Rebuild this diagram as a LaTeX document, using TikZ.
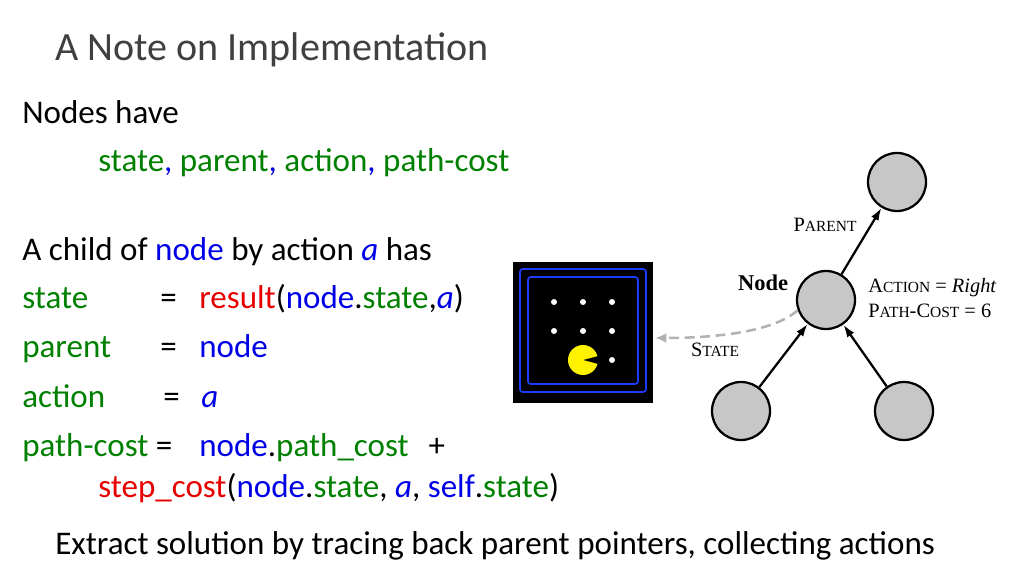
\documentclass[tikz,border=0pt]{standalone}
\usepackage{fontspec}
\setmainfont{Carlito}
\newfontfamily\serf{Liberation Serif}
\usetikzlibrary{arrows.meta}
\definecolor{gr}{RGB}{0,128,0}
\definecolor{bl}{RGB}{0,0,230}
\definecolor{rd}{RGB}{230,0,0}
\definecolor{wall}{RGB}{30,60,255}
\newlength\unit \setlength\unit{0.025cm}
\newcommand\fakesc[1]{{\fontsize{11}{13}\selectfont\uppercase{#1}}}
\tikzset{
  txt/.style={anchor=west,inner sep=0pt,text height=0.72em,text depth=0.2em,font=\fontsize{23.5}{26}\selectfont},
  lab/.style={inner sep=0pt,font=\serf\fontsize{14.5}{17}\selectfont},
  tnode/.style={circle,draw,fill=black!22,line width=1.6pt,minimum size=58\unit,inner sep=0pt},
  edge/.style={line width=1.6pt,-{Latex[length=9pt,width=6pt]}},
  dot/.style={circle,fill=white,inner sep=0pt,minimum size=6\unit}
}
\begin{document}
\begin{tikzpicture}[x=0.025cm,y=-0.025cm]
\useasboundingbox (0,0) rectangle (1024,576);
\node[txt,font=\fontsize{28.5}{32}\selectfont,color=black!75] (title) at (55,57) {A Note on Implementation};
\node[txt] (t1) at (22,120) {Nodes have};
\node[txt,gr] (t2) at (98,168) {state{\color{bl},} parent{\color{bl},} action{\color{bl},} path-cost};
\node[txt] (t3) at (22,257) {A child of {\color{bl}node} by action {\color{bl}\itshape a} has};
\node[txt,gr] (s1) at (22,305) {state};
\node[txt] (e1) at (160,305) {=};
\node[txt] (r1) at (199,305) {{\color{rd}result}(\textcolor{bl}{node}.\textcolor{gr}{state},\textcolor{bl}{\itshape a})};
\node[txt,gr] (s2) at (22,354) {parent};
\node[txt] (e2) at (160,354) {=};
\node[txt,bl] (r2) at (199,354) {node};
\node[txt,gr] (s3) at (22,404) {action};
\node[txt] (e3) at (163,404) {=};
\node[txt,bl] (r3) at (201,404) {\itshape a};
\node[txt] (s4) at (22,453) {\textcolor{gr}{path-cost} =};
\node[txt] (r4) at (199,453) {\textcolor{bl}{node}.\textcolor{gr}{path\_cost}\hspace{0.6em}+};
\node[txt] (s5) at (98,494) {\textcolor{rd}{step\_cost}(\textcolor{bl}{node}.\textcolor{gr}{state}, \textcolor{bl}{\itshape a}, \textcolor{bl}{self}.\textcolor{gr}{state})};
\node[txt] (bot) at (55,551) {Extract solution by tracing back parent pointers, collecting actions};
% pacman
\fill (513,262) rectangle (653,403);
\draw[wall,line width=1.2pt,rounded corners=2pt] (520,269) rectangle (646,392);
\draw[wall,line width=1.2pt,rounded corners=2pt] (528,277) rectangle (638,384);
\foreach \x in {554,583,612}{\foreach \y in {302,331}{\node[dot] at (\x,\y) {};}}
\node[dot] at (612,360) {};
\fill[yellow] (583,360) -- ++(15:15) arc[start angle=15,end angle=345,radius=15] -- cycle;
\coordinate (pacR) at (655,338);
% tree
\node[tnode] (top) at (897,182) {};
\node[tnode] (mid) at (826,300) {};
\node[tnode] (bl) at (741,411) {};
\node[tnode] (br) at (904,411) {};
\draw[edge] (mid) -- (top);
\draw[edge] (bl) -- (mid);
\draw[edge] (br) -- (mid);
\draw[black!30,dash pattern=on 7pt off 4pt,line width=1.8pt,-{Latex[length=8pt,width=7pt]}] (mid.200) .. controls (770,335) and (700,338) .. (pacR);
\node[lab] (lp) at (825,225) {P\fakesc{arent}};
\node[lab,font=\serf\bfseries\fontsize{16}{18}\selectfont] (ln) at (763,283) {Node};
\node[lab,anchor=west] (la) at (868,288) {A\fakesc{ction} = \textit{Right}};
\node[lab,anchor=west] (lc) at (868,311) {P\fakesc{ath}-C\fakesc{ost} = 6};
\node[lab] (ls) at (715,350) {S\fakesc{tate}};
\end{tikzpicture}
\end{document}
